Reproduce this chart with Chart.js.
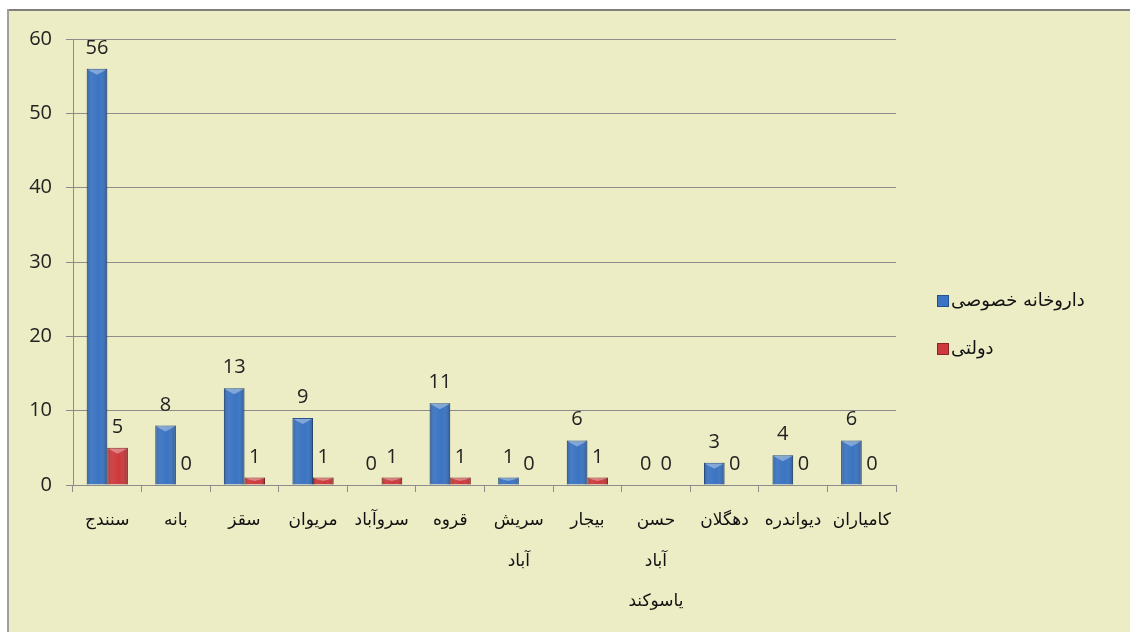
<!DOCTYPE html>
<html>
<head>
<meta charset="utf-8">
<script src="https://cdn.jsdelivr.net/npm/chart.js@4.4.0/dist/chart.umd.min.js"></script>
<style>
html,body{margin:0;padding:0;background:#fff;}
#wrap{width:1130px;height:632px;position:relative;}
</style>
</head>
<body>
<div id="wrap"><canvas id="c" width="1130" height="632"></canvas></div>
<script>
const categories = [
  'سنندج', 'بانه', 'سقز', 'مریوان', 'سروآباد', 'قروه',
  ['سریش', 'آباد'], 'بیجار', ['حسن', 'آباد', 'یاسوکند'], 'دهگلان', 'دیواندره', 'کامیاران'
];
const privateLabel = 'داروخانه خصوصی';
const privateValues = [56, 8, 13, 9, 0, 11, 1, 6, 0, 3, 4, 6];
const publicLabel = 'دولتی';
const publicValues = [5, 0, 1, 1, 1, 1, 0, 1, 0, 0, 0, 0];
const yTicks = [0, 10, 20, 30, 40, 50, 60];

const BG = '#ECECC5';
const numFont = "'Open Sans', 'DejaVu Sans', sans-serif";
const arFont = "'DejaVu Sans', sans-serif";

const bgPlugin = {
  id: 'bg',
  beforeDraw(chart) {
    const ctx = chart.ctx;
    ctx.save();
    ctx.fillStyle = '#ffffff';
    ctx.fillRect(0, 0, chart.width, chart.height);
    ctx.fillStyle = BG;
    ctx.fillRect(8, 10, chart.width - 8, chart.height - 10);
    ctx.fillStyle = '#7f7f7f';
    ctx.fillRect(8, 9, chart.width - 8, 2);
    ctx.fillStyle = '#a0a0a0';
    ctx.fillRect(7, 9, 2, chart.height - 9);
    ctx.restore();
  }
};

const bevelPlugin = {
  id: 'bevel',
  afterDatasetsDraw(chart) {
    const ctx = chart.ctx;
    ctx.save();
    chart.data.datasets.forEach((ds, di) => {
      const meta = chart.getDatasetMeta(di);
      meta.data.forEach((bar) => {
        const h = bar.base - bar.y;
        if (h < 2) return;
        const w = bar.width;
        const left = bar.x - w / 2;
        const g = ctx.createLinearGradient(left, 0, left + w, 0);
        g.addColorStop(0, 'rgba(0,0,0,0.18)');
        g.addColorStop(0.25, 'rgba(255,255,255,0.06)');
        g.addColorStop(0.6, 'rgba(255,255,255,0.0)');
        g.addColorStop(1, 'rgba(0,0,0,0.22)');
        ctx.fillStyle = g;
        ctx.fillRect(left, bar.y, w, h);
        // top bevel highlight triangle
        const th = Math.min(6, h / 2);
        ctx.fillStyle = 'rgba(255,255,255,0.35)';
        ctx.beginPath();
        ctx.moveTo(left + 1, bar.y + 1);
        ctx.lineTo(left + w - 1, bar.y + 1);
        ctx.lineTo(bar.x, bar.y + th);
        ctx.closePath();
        ctx.fill();
      });
    });
    ctx.restore();
  }
};

const labelPlugin = {
  id: 'vals',
  afterDatasetsDraw(chart) {
    const ctx = chart.ctx;
    ctx.save();
    ctx.font = '20px ' + numFont;
    ctx.fillStyle = '#222';
    ctx.textAlign = 'center';
    ctx.textBaseline = 'alphabetic';
    chart.data.datasets.forEach((ds, di) => {
      const meta = chart.getDatasetMeta(di);
      meta.data.forEach((bar, i) => {
        ctx.fillText(String(ds.data[i]), bar.x, bar.y - 15);
      });
    });
    ctx.restore();
  }
};

const legendPlugin = {
  id: 'customLegend',
  afterDraw(chart) {
    const ctx = chart.ctx;
    ctx.save();
    const items = chart.data.datasets;
    const x0 = 937, ys = [301, 349];
    items.forEach((ds, i) => {
      const y = ys[i];
      ctx.fillStyle = ds.backgroundColor;
      ctx.fillRect(x0, y - 6, 12, 12);
      ctx.strokeStyle = ds.borderColor;
      ctx.lineWidth = 1;
      ctx.strokeRect(x0 + 0.5, y - 5.5, 11, 11);
      ctx.fillStyle = '#111';
      ctx.font = '18px ' + arFont;
      ctx.textAlign = 'left';
      ctx.textBaseline = 'middle';
      ctx.fillText(ds.label, x0 + 14, y);
    });
    ctx.restore();
  }
};

new Chart(document.getElementById('c'), {
  type: 'bar',
  data: {
    labels: categories,
    datasets: [
      { label: privateLabel, data: privateValues, backgroundColor: '#3B74C2', borderColor: '#23508F', borderWidth: 1,
        categoryPercentage: 0.6, barPercentage: 1.0 },
      { label: publicLabel, data: publicValues, backgroundColor: '#CC3A3D', borderColor: '#8E2225', borderWidth: 1,
        categoryPercentage: 0.6, barPercentage: 1.0 }
    ]
  },
  options: {
    responsive: false,
    animation: false,
    devicePixelRatio: 1,
    layout: { padding: { left: 0, right: 234, top: 39, bottom: 0 } },
    plugins: { legend: { display: false }, tooltip: { enabled: false } },
    scales: {
      x: {
        offset: true,
        grid: { display: true, offset: true, drawOnChartArea: false, drawTicks: true, tickLength: 7, color: '#8c8c8c' },
        border: { display: true, color: '#8c8c8c', width: 1 },
        ticks: { font: { family: arFont, size: 17, lineHeight: 2.4 }, color: '#111', maxRotation: 0, autoSkip: false, padding: 8 },
        afterFit(scale) { scale.height = 632 - 485; }
      },
      y: {
        min: 0, max: 60,
        afterBuildTicks(scale) { scale.ticks = yTicks.map(v => ({ value: v })); },
        grid: { color: '#8c8c8c', tickLength: 7, drawTicks: true },
        border: { display: true, color: '#8c8c8c', width: 1 },
        ticks: { font: { family: numFont, size: 20 }, color: '#222', padding: 14 },
        afterFit(scale) { scale.width = 73; }
      }
    }
  },
  plugins: [bgPlugin, bevelPlugin, labelPlugin, legendPlugin]
});
</script>
</body>
</html>
